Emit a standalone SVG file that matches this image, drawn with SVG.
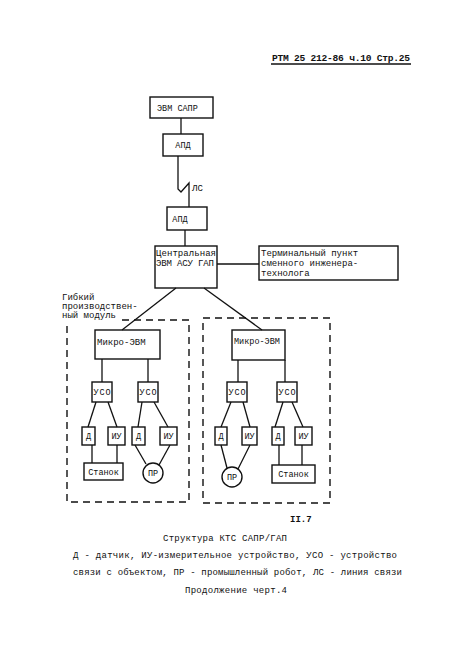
<svg xmlns="http://www.w3.org/2000/svg" width="474" height="653" viewBox="0 0 474 653">
<style>
text{font-family:"Liberation Mono","DejaVu Sans Mono",monospace;fill:#111;}
.t{font-size:9px;}
.s{font-size:8.5px;}
.c{text-anchor:middle;}
.box{fill:none;stroke:#111;stroke-width:1.4;}
.ln{fill:none;stroke:#111;stroke-width:1.3;}
.dash{fill:none;stroke:#111;stroke-width:1.4;stroke-dasharray:7,5;}
</style>
<rect width="474" height="653" fill="#fff"/>
<g id="header">
<text x="272" y="61" class="t" style="font-size:9.6px;font-weight:bold" textLength="138">РТМ 25 212-86 ч.10 Стр.25</text>
<line x1="271" y1="64" x2="411" y2="64" class="ln"/>
</g>
<g id="connectors">
<line x1="181" y1="118" x2="181" y2="134" class="ln"/>
<polyline points="178,156 178,189 181,192 189,183 189,207" class="ln"/>
<line x1="185" y1="230" x2="185" y2="246" class="ln"/>
<line x1="217" y1="264" x2="259" y2="264" class="ln"/>
<line x1="176" y1="288" x2="122" y2="330" class="ln"/>
<line x1="204" y1="288" x2="262" y2="330" class="ln"/>
<line x1="102" y1="359" x2="102" y2="382" class="ln"/>
<line x1="148" y1="359" x2="148" y2="382" class="ln"/>
<line x1="238" y1="360" x2="238" y2="382" class="ln"/>
<line x1="285" y1="360" x2="285" y2="382" class="ln"/>
<line x1="96" y1="402" x2="88" y2="427" class="ln"/>
<line x1="108" y1="402" x2="117" y2="427" class="ln"/>
<line x1="142" y1="402" x2="138" y2="427" class="ln"/>
<line x1="154" y1="402" x2="168" y2="427" class="ln"/>
<line x1="92" y1="445" x2="92" y2="463" class="ln"/>
<line x1="117" y1="445" x2="117" y2="463" class="ln"/>
<line x1="135" y1="445" x2="146" y2="464" class="ln"/>
<line x1="170" y1="445" x2="159" y2="465" class="ln"/>
<line x1="231" y1="402" x2="221" y2="427" class="ln"/>
<line x1="243" y1="402" x2="250" y2="427" class="ln"/>
<line x1="283" y1="402" x2="275" y2="427" class="ln"/>
<line x1="292" y1="402" x2="303" y2="427" class="ln"/>
<line x1="221" y1="445" x2="227" y2="468" class="ln"/>
<line x1="250" y1="445" x2="238" y2="469" class="ln"/>
<line x1="279" y1="445" x2="279" y2="465" class="ln"/>
<line x1="302" y1="445" x2="302" y2="465" class="ln"/>
<text x="192" y="191" class="t">ЛС</text>
</g>
<g id="evm-sapr"><rect x="150" y="97" width="63" height="21" class="box"/><text x="157" y="111" class="s">ЭВМ САПР</text></g>
<g id="apd1"><rect x="163" y="134" width="40" height="22" class="box"/><text x="183" y="148" class="s c">АПД</text></g>
<g id="apd2"><rect x="167" y="207" width="40" height="23" class="box"/><text x="180" y="222" class="s c">АПД</text></g>
<g id="central"><rect x="155" y="246" width="62" height="42" class="box"/>
<text x="156" y="256" class="t" textLength="60">Центральная</text>
<text x="156" y="266" class="t" textLength="58">ЭВМ АСУ ГАП</text></g>
<g id="terminal"><rect x="259" y="246" width="139" height="34" class="box"/>
<text x="261" y="256" class="t">Терминальный пункт</text>
<text x="261" y="266" class="t">сменного инженера-</text>
<text x="261" y="276" class="t">технолога</text></g>
<g id="module-left">
<text x="62" y="300" class="t">Гибкий</text>
<text x="62" y="309" class="t">производствен-</text>
<text x="62" y="318" class="t">ный модуль</text>
<path d="M122,320 H189 V502 H67 V323" class="dash"/>
</g>
<g id="module-right"><rect x="203" y="318" width="127" height="185" class="dash"/></g>
<g id="micro1"><rect x="95" y="330" width="65" height="29" class="box"/><text x="97" y="345" class="t">Микро-ЭВМ</text></g>
<g id="micro2"><rect x="232" y="330" width="53" height="30" class="box"/><text x="234" y="344" class="s">Микро-ЭВМ</text></g>
<g id="uso1"><rect x="92" y="382" width="20" height="20" class="box"/><text x="102" y="395" class="s c" textLength="17">УСО</text></g>
<g id="uso2"><rect x="138" y="382" width="20" height="20" class="box"/><text x="148" y="395" class="s c" textLength="17">УСО</text></g>
<g id="uso3"><rect x="227" y="382" width="20" height="20" class="box"/><text x="237" y="395" class="s c" textLength="17">УСО</text></g>
<g id="uso4"><rect x="277" y="382" width="20" height="20" class="box"/><text x="287" y="395" class="s c" textLength="17">УСО</text></g>
<g id="d1"><rect x="82" y="427" width="13" height="18" class="box"/><text x="88.5" y="439" class="s c">Д</text></g>
<g id="iu1"><rect x="108" y="427" width="17" height="18" class="box"/><text x="116.5" y="439" class="s c">ИУ</text></g>
<g id="d2"><rect x="132" y="427" width="13" height="18" class="box"/><text x="138.5" y="439" class="s c">Д</text></g>
<g id="iu2"><rect x="160" y="427" width="17" height="18" class="box"/><text x="168.5" y="439" class="s c">ИУ</text></g>
<g id="d3"><rect x="215" y="427" width="12" height="18" class="box"/><text x="221" y="439" class="s c">Д</text></g>
<g id="iu3"><rect x="242" y="427" width="15" height="18" class="box"/><text x="249.5" y="439" class="s c">ИУ</text></g>
<g id="d4"><rect x="272" y="427" width="12" height="18" class="box"/><text x="278" y="439" class="s c">Д</text></g>
<g id="iu4"><rect x="295" y="427" width="17" height="18" class="box"/><text x="303.5" y="439" class="s c">ИУ</text></g>
<g id="stanok1"><rect x="84" y="463" width="39" height="17" class="box"/><text x="103.5" y="475" class="s c">Станок</text></g>
<g id="pr1"><circle cx="153" cy="473" r="10" class="box"/><text x="153" y="476" class="s c">ПР</text></g>
<g id="pr2"><circle cx="232" cy="477" r="10" class="box"/><text x="232" y="480" class="s c">ПР</text></g>
<g id="stanok2"><rect x="272" y="465" width="43" height="18" class="box"/><text x="293.5" y="477" class="s c">Станок</text></g>
<g id="caption">
<text x="290" y="522" class="t" style="font-weight:bold">II.7</text>
<text x="225" y="541" class="t c" textLength="124">Структура КТС САПР/ГАП</text>
<text x="73" y="558" class="t" textLength="324">Д - датчик,  ИУ-измерительное устройство, УСО - устройство</text>
<text x="73" y="575" class="t" textLength="329">связи с объектом, ПР - промышленный робот, ЛС - линия связи</text>
<text x="236" y="593" class="t c" textLength="102">Продолжение черт.4</text>
</g>
</svg>
